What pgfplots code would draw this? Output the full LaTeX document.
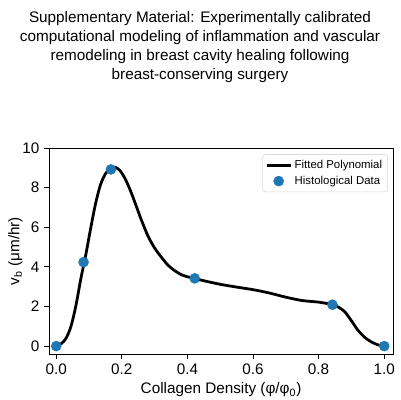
\documentclass[border=0pt]{standalone}
\usepackage{pgfplots}
\pgfplotsset{compat=1.18}
\usepackage{fontspec}
\setmainfont{Liberation Sans}
\definecolor{mplblue}{HTML}{1F77B4}
\begin{document}
\begin{tikzpicture}
\path[use as bounding box] (0,0) rectangle (288pt,288pt);
\node[align=center, font=\fontsize{11}{13.5}\selectfont] at (144pt,254.2pt)
  {Supplementary Material: Experimentally calibrated\\computational modeling of inflammation and vascular\\remodeling in breast cavity healing following\\breast-conserving surgery};
\begin{axis}[
  at={(35.3pt,33.1pt)}, anchor=south west,
  scale only axis, width=247.7pt, height=148.3pt,
  xmin=-0.022, xmax=1.027, ymin=-0.4, ymax=10,
  xtick={0,0.2,0.4,0.6,0.8,1.0},
  xticklabels={0.0,0.2,0.4,0.6,0.8,1.0},
  ytick={0,2,4,6,8,10},
  tick align=outside, tick pos=left,
  major tick length=3.5pt,
  tick style={black, line width=0.6pt},
  axis line style={line width=0.6pt},
  ticklabel style={font=\fontsize{11}{13}\selectfont},
  /pgf/number format/assume math mode=true,
  xlabel={Collagen Density (φ/φ\textsubscript{0})},
  ylabel={v\textsubscript{b} (μm/hr)},
  label style={font=\fontsize{11}{13}\selectfont},
  xlabel style={yshift=1pt},
  ylabel style={yshift=-7pt},
  legend style={at={(0.985,0.97)}, anchor=north east, draw=black!15, rounded corners=2pt,
    font=\fontsize{8.2}{10}\selectfont, inner sep=2pt, row sep=0pt},
  legend cell align=left,
]
\addplot[black, line width=2pt, smooth] coordinates {
(0.000,0.00) (0.015,0.12) (0.030,0.40) (0.045,1.00) (0.060,2.05) (0.075,3.40)
(0.090,4.60) (0.105,5.95) (0.120,7.20) (0.135,8.15) (0.150,8.70) (0.165,8.97)
(0.180,9.03) (0.195,8.85) (0.210,8.45) (0.225,7.90) (0.240,7.25) (0.260,6.35)
(0.280,5.55) (0.300,4.95) (0.320,4.50) (0.340,4.10) (0.360,3.82) (0.380,3.62)
(0.400,3.50) (0.420,3.42) (0.450,3.30) (0.500,3.12) (0.550,2.98) (0.600,2.85)
(0.650,2.68) (0.700,2.47) (0.750,2.30) (0.800,2.22) (0.840,2.10) (0.860,1.97)
(0.880,1.73) (0.900,1.28) (0.920,0.80) (0.940,0.45) (0.960,0.22) (0.980,0.07)
(1.000,0.00)
};
\addlegendentry{Fitted Polynomial}
\addplot[only marks, mark=*, mark size=3.6pt, mark options={fill=mplblue, draw=mplblue}] coordinates {
(0,0) (0.0833,4.24) (0.1667,8.92) (0.4222,3.42) (0.8422,2.09) (1.0,0.0)
};
\addlegendentry{Histological Data}
\end{axis}
\end{tikzpicture}
\end{document}
